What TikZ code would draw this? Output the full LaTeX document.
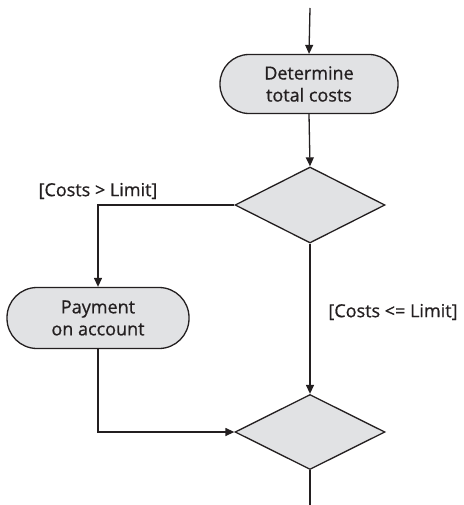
\documentclass[tikz,border=0pt]{standalone}
\usepackage{fontspec}
\newfontfamily\labelfont{Open Sans}[FakeBold=0.7]
\usetikzlibrary{arrows.meta,shapes.geometric}
\definecolor{ink}{HTML}{231F20}
\definecolor{boxfill}{HTML}{E1E2E4}
\tikzset{
  flow/.style={draw=ink, line width=1.3pt},
  action/.style={flow, fill=boxfill, rectangle, rounded corners=29pt,
    minimum width=178pt, minimum height=59pt, align=center,
    font=\labelfont\fontsize{18}{22}\selectfont, text=ink, inner sep=0pt},
  decision/.style={flow, fill=boxfill, diamond, inner sep=0pt,
    minimum width=150pt, minimum height=76pt},
  guard/.style={font=\labelfont\fontsize{18}{20}\selectfont, text=ink, inner sep=0pt},
  arr/.style={flow, -{Triangle[length=9pt,width=8pt]}},
}
\begin{document}
\begin{tikzpicture}[x=1pt,y=-1pt]
  \useasboundingbox (0,0) rectangle (463,505);
  \coordinate (start) at (310,8);
  \node[action] (det) at (309,84) {Determine\\total costs};
  \node[decision] (d1) at (310,205) {};
  \node[action, minimum width=182pt, minimum height=61pt, rounded corners=30pt] (pay) at (98,318) {Payment\\on account};
  \node[decision, minimum height=75pt] (d2) at (310,432) {};
  \coordinate (end) at (310,505);

  \draw[arr] (start) -- (det.north);
  \draw[arr] (det.south) -- (d1.north);
  \draw[arr] (d1.west) -| (pay.north);
  \draw[arr] (d1.south) -- (d2.north);
  \draw[arr] (pay.south) |- (d2.west);
  \draw[flow] (d2.south) -- (end);

  \node[guard] (gt) at (98,191) {[Costs > Limit]};
  \node[guard] (le) at (393,312) {[Costs <= Limit]};
\end{tikzpicture}
\end{document}
